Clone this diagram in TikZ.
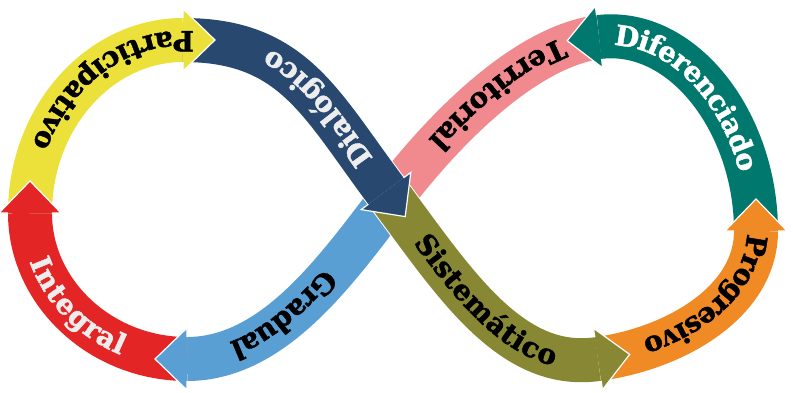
\documentclass[tikz,border=0pt]{standalone}
\usepackage{fontspec}
\newfontfamily\slab{DejaVu Serif}[BoldFeatures={FakeBold=1.6}]
\usetikzlibrary{calc,decorations.text}
\definecolor{cRed}{HTML}{E32526}
\definecolor{cYel}{HTML}{EBE13A}
\definecolor{cNavy}{HTML}{284870}
\definecolor{cOlive}{HTML}{878734}
\definecolor{cOrange}{HTML}{F08A24}
\definecolor{cTeal}{HTML}{00786E}
\definecolor{cPink}{HTML}{F08A8E}
\definecolor{cSky}{HTML}{5A9FD4}
\definecolor{cLight}{HTML}{EDEDED}
\tikzset{
  bandedge/.style={draw=white, line width=46pt},
  bandcore/.style={draw=#1, line width=44pt},
  tipedge/.style={draw=white, line width=1.2pt, line join=miter},
  lbl/.style={decorate, decoration={text along path, text align={left indent=#1}, raise=-9pt}},
}
\newcommand\Band[2]{\path[bandedge] #2; \path[bandcore=#1] #2;}
\newcommand\Tip[3]{%
  \fill[#1] ($(#2)!31pt!90:(#3)$) -- ($(#2)!-32pt!(#3)$) -- ($(#2)!31pt!-90:(#3)$) -- cycle;
  \draw[tipedge] ($(#2)!22pt!90:(#3)$) -- ($(#2)!31pt!90:(#3)$) -- ($(#2)!-32pt!(#3)$) -- ($(#2)!31pt!-90:(#3)$) -- ($(#2)!22pt!-90:(#3)$);}
\newcommand\Fnt{\slab\bfseries\fontsize{28}{30}\selectfont}
\begin{document}
\begin{tikzpicture}[x=1pt,y=-1pt]
\useasboundingbox (0,0) rectangle (793,392);
\coordinate (J1) at (187,359);
\coordinate (J2) at (30,213);
\coordinate (J3) at (183,40);
\coordinate (J4) at (386,191);
\coordinate (J5) at (598,359);
\coordinate (J6) at (756,231);
\coordinate (J7) at (599,37);
\coordinate (J8) at (396,192);
% bands
\Band{cPink}{(J7) .. controls (529,46) and (451,121) .. (J8)}
\Band{cSky}{(J8) .. controls (341,263) and (277,359) .. (J1)}
\Band{cRed}{(J1) .. controls (101,359) and (30,293) .. (J2)}
\Band{cYel}{(J2) .. controls (30,118) and (99,40) .. (J3)}
\Band{cOrange}{(J5) .. controls (677,348) and (756,301) .. (J6)}
\Band{cTeal}{(J6) .. controls (756,124) and (684,27) .. (J7)}
\Band{cOlive}{(J4) .. controls (452,279) and (509,372) .. (J5)}
\Band{cNavy}{(J3) .. controls (293,40) and (320,103) .. (J4)}
% tips
\Tip{cSky}{J1}{277,359}
\Tip{cRed}{J2}{30,293}
\Tip{cYel}{J3}{99,40}
\Tip{cNavy}{J4}{320,103}
\Tip{cOlive}{J5}{509,372}
\Tip{cOrange}{J6}{756,301}
\Tip{cTeal}{J7}{684,27}
% labels
\path[lbl=0pt, decoration={text={|\Fnt|Participativo}, text color=black}] (194,40) -- (J3) .. controls (99,40) and (30,118) .. (J2);
\path[lbl=34pt, decoration={text={|\Fnt|Dialógico}, text color=cLight}] (J4) .. controls (320,103) and (293,40) .. (J3);
\path[lbl=36pt, decoration={text={|\Fnt|Territorial}, text color=black}] (J7) .. controls (529,46) and (451,121) .. (J8);
\path[lbl=16pt, decoration={text={|\Fnt|Diferenciado}, text color=white}] (J7) .. controls (684,27) and (756,124) .. (J6);
\path[lbl=4pt, decoration={text={|\Fnt|Progresivo}, text color=black}] (J6) .. controls (756,301) and (677,348) .. (J5);
\path[lbl=58pt, decoration={text={|\Fnt|Sistemático}, text color=black}] (J4) .. controls (452,279) and (509,372) .. (J5);
\path[lbl=105pt, decoration={text={|\Fnt|Gradual}, text color=black}] (J8) .. controls (341,263) and (277,359) .. (J1);
\path[lbl=46pt, decoration={text={|\Fnt|Integral}, text color=cLight}] (J2) .. controls (30,293) and (101,359) .. (J1);
\end{tikzpicture}
\end{document}
